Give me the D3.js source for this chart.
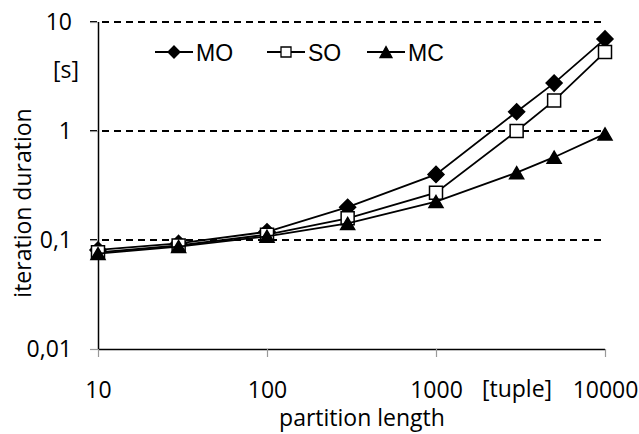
<!DOCTYPE html>
<html>
<head>
<meta charset="utf-8">
<script src="https://cdn.jsdelivr.net/npm/d3@7"></script>
<style>
  html, body { margin: 0; padding: 0; background: #fff; }
  svg { display: block; }
  .tick text { font-family: "Open Sans", "Noto Sans", sans-serif; font-size: 23px; fill: #000; }
</style>
</head>
<body>
<svg id="chart" width="639" height="434"></svg>
<script>
// Partition lengths (tuples) and iteration durations (s)
const partitionLengths = [10, 30, 100, 300, 1000, 3000, 5000, 10000];
const moValues = [0.081, 0.093, 0.119, 0.2, 0.4, 1.5, 2.75, 7.0];
const soValues = [0.077, 0.089, 0.112, 0.158, 0.272, 1.0, 1.9, 5.3];
const mcValues = [0.075, 0.087, 0.108, 0.142, 0.225, 0.415, 0.575, 0.94];
const seriesNames = ["MO", "SO", "MC"];

const xTicks = [10, 100, 1000, 10000];
const xTickLabels = ["10", "100", "1000", "10000"];
const yTicks = [0.01, 0.1, 1, 10];
const yTickLabels = ["0,01", "0,1", "1", "10"];
const gridValues = [0.1, 1, 10];

const svg = d3.select("#chart");

const x = d3.scaleLog().domain([10, 10000]).range([98, 605]);
const y = d3.scaleLog().domain([0.01, 10]).range([349, 22]);

// Dashed horizontal gridlines
svg.append("g").selectAll("line").data(gridValues).join("line")
  .attr("x1", 90).attr("x2", x(10000))
  .attr("y1", d => y(d)).attr("y2", d => y(d))
  .attr("stroke", "#000").attr("stroke-width", 2)
  .attr("stroke-dasharray", "7,5");

// Axes
const xAxis = d3.axisBottom(x)
  .tickValues(xTicks)
  .tickFormat((d, i) => xTickLabels[i])
  .tickSize(8).tickPadding(25);
const gx = svg.append("g").attr("transform", `translate(0,${y(0.01)})`).call(xAxis);

const yAxis = d3.axisLeft(y)
  .tickValues(yTicks)
  .tickFormat((d, i) => yTickLabels[i])
  .tickSize(8).tickPadding(18);
const gy = svg.append("g").attr("transform", `translate(${x(10)},0)`).call(yAxis);

[gx, gy].forEach(g => {
  g.select(".domain").attr("stroke", "#000").attr("stroke-width", 1.5)
    .attr("d", g === gx ? `M${x(10)},0.5H${x(10000)}` : `M0.5,${y(10)}V${y(0.01)}`);
  g.selectAll(".tick line").attr("stroke", "#999").attr("stroke-width", 1.2);
});

// Axis titles and units
const textFont = '"Open Sans", "Noto Sans", sans-serif';
svg.append("text").attr("x", 362).attr("y", 426)
  .attr("text-anchor", "middle").attr("font-family", textFont).attr("font-size", 23)
  .text("partition length");
svg.append("text").attr("transform", "translate(31,203) rotate(-90)")
  .attr("text-anchor", "middle").attr("font-family", textFont).attr("font-size", 23)
  .text("iteration duration");
svg.append("text").attr("x", 66).attr("y", 78)
  .attr("text-anchor", "middle").attr("font-family", textFont).attr("font-size", 23)
  .text("[s]");
svg.append("text").attr("x", 517).attr("y", 397)
  .attr("text-anchor", "middle").attr("font-family", textFont).attr("font-size", 23)
  .text("[tuple]");

// Marker shapes
function diamond(r) { return `M0,${-r}L${r},0L0,${r}L${-r},0Z`; }
function square(h) { return `M${-h},${-h}H${h}V${h}H${-h}Z`; }
function triangle(w, h) { return `M0,${-h / 2}L${w / 2},${h / 2}L${-w / 2},${h / 2}Z`; }

const series = [
  { name: seriesNames[0], values: moValues, shape: diamond(8), legendShape: diamond(6), fill: "#000" },
  { name: seriesNames[1], values: soValues, shape: square(6.5), legendShape: square(5), fill: "#fff" },
  { name: seriesNames[2], values: mcValues, shape: triangle(14, 12), legendShape: triangle(12, 11), fill: "#000" }
];

const line = d3.line().x(d => x(d[0])).y(d => y(d[1]));

series.forEach(s => {
  const pts = partitionLengths.map((p, i) => [p, s.values[i]]);
  svg.append("path").datum(pts).attr("d", line)
    .attr("fill", "none").attr("stroke", "#000").attr("stroke-width", 1.8);
  svg.append("g").selectAll("path").data(pts).join("path")
    .attr("d", s.shape)
    .attr("transform", d => `translate(${x(d[0])},${y(d[1])})`)
    .attr("fill", s.fill).attr("stroke", "#000").attr("stroke-width", 1.5);
});

// Legend
const legendX = [155, 267, 367];
const legend = svg.append("g");
series.forEach((s, i) => {
  const g = legend.append("g").attr("transform", `translate(${legendX[i]},52)`);
  g.append("line").attr("x1", 0).attr("x2", 38).attr("y1", 0).attr("y2", 0)
    .attr("stroke", "#000").attr("stroke-width", 1.8);
  g.append("path").attr("d", s.legendShape).attr("transform", "translate(19,0)")
    .attr("fill", s.fill).attr("stroke", "#000").attr("stroke-width", 1.3);
  g.append("text").attr("x", 41).attr("y", 8.5)
    .attr("font-family", '"Liberation Sans Narrow", "Liberation Sans", Arial, sans-serif')
    .attr("font-size", 23).text(s.name);
});
</script>
</body>
</html>
